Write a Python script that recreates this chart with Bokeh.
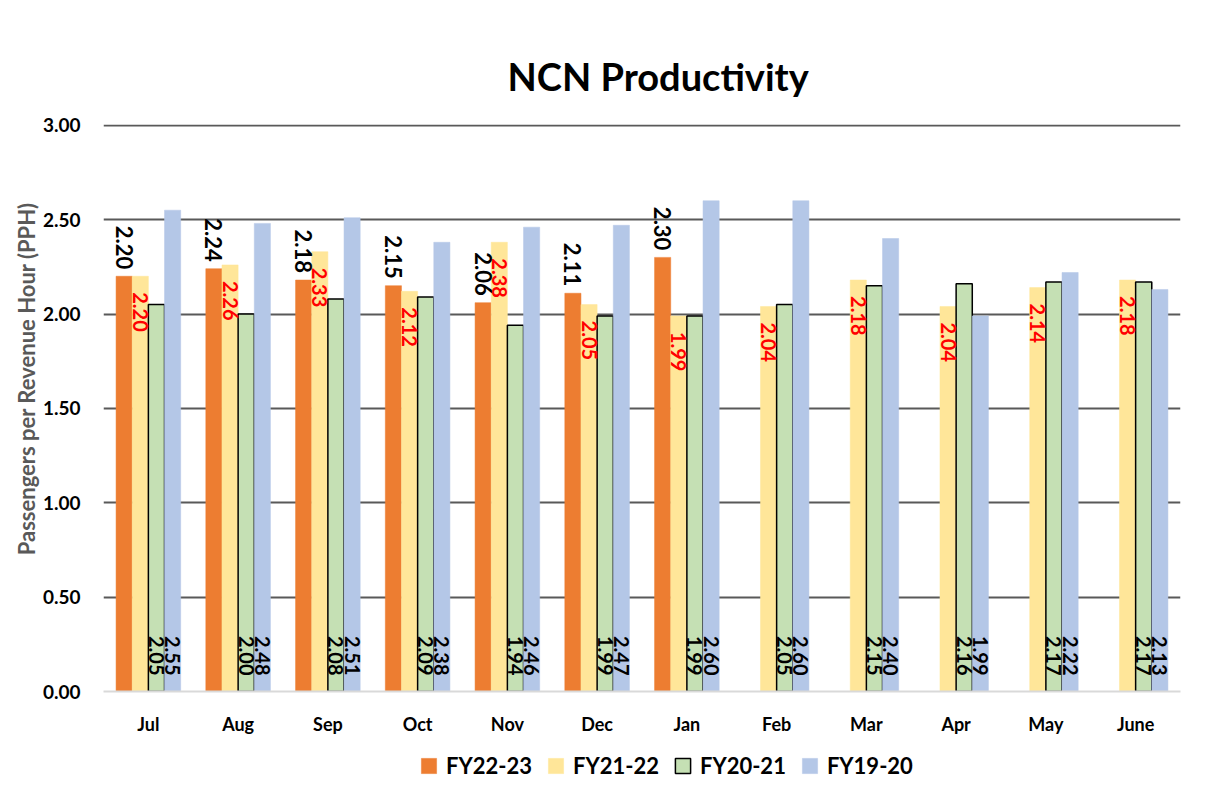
import math
from bokeh.plotting import figure
from bokeh.layouts import column
from bokeh.models import (ColumnDataSource, FactorRange, Legend, LegendItem,
                          Range1d, NumeralTickFormatter, FixedTicker)
from bokeh.transform import dodge
from bokeh.core.properties import value
from bokeh.embed import file_html
from bokeh.resources import INLINE

months = ["Jul", "Aug", "Sep", "Oct", "Nov", "Dec", "Jan", "Feb", "Mar", "Apr", "May", "June"]
fy22_23 = [2.20, 2.24, 2.18, 2.15, 2.06, 2.11, 2.30, None, None, None, None, None]
fy21_22 = [2.20, 2.26, 2.33, 2.12, 2.38, 2.05, 1.99, 2.04, 2.18, 2.04, 2.14, 2.18]
fy20_21 = [2.05, 2.00, 2.08, 2.09, 1.94, 1.99, 1.99, 2.05, 2.15, 2.16, 2.17, 2.17]
fy19_20 = [2.55, 2.48, 2.51, 2.38, 2.46, 2.47, 2.60, 2.60, 2.40, 1.99, 2.22, 2.13]
y_ticks = [0.0, 0.5, 1.0, 1.5, 2.0, 2.5, 3.0]

FONT = "Lato"

series = [
    ("FY22-23", fy22_23, "#ED7D31", None, -0.27),
    ("FY21-22", fy21_22, "#FFE699", None, -0.09),
    ("FY20-21", fy20_21, "#C5E0B4", "black", 0.09),
    ("FY19-20", fy19_20, "#B4C7E7", None, 0.27),
]

p = figure(width=1231, height=742, x_range=FactorRange(*months), y_range=Range1d(0, 3.004),
           output_backend="svg", toolbar_location=None,
           min_border_left=103, min_border_right=51, min_border_top=124, min_border_bottom=51)
p.title.text = "NCN Productivity"
p.title.text_font = FONT
p.title.text_font_size = "38px"
p.title.text_font_style = "bold"
p.title.text_color = "black"
p.title.align = "left"
p.title.offset = 404
p.title.standoff = 52

p.outline_line_color = None
p.xgrid.grid_line_color = None
p.ygrid.grid_line_color = "#595959"
p.ygrid.grid_line_width = 2
p.ygrid.ticker = FixedTicker(ticks=y_ticks[1:])

p.yaxis.ticker = FixedTicker(ticks=y_ticks)
p.yaxis.formatter = NumeralTickFormatter(format="0.00")
p.yaxis.axis_line_color = None
p.yaxis.major_tick_line_color = None
p.yaxis.minor_tick_line_color = None
p.yaxis.major_label_text_font = FONT
p.yaxis.major_label_text_font_style = "bold"
p.yaxis.major_label_text_font_size = "19px"
p.yaxis.major_label_text_color = "black"
p.yaxis.major_label_standoff = 17
p.yaxis.axis_label = "\u00a0" * 11 + "Passengers per Revenue Hour (PPH)"
p.yaxis.axis_label_text_font = FONT
p.yaxis.axis_label_text_font_size = "22px"
p.yaxis.axis_label_text_font_style = "bold"
p.yaxis.axis_label_text_color = "#595959"
p.yaxis.axis_label_standoff = 0

p.xaxis.axis_line_color = "#D9D9D9"
p.xaxis.axis_line_width = 2
p.xaxis.major_tick_line_color = None
p.xaxis.minor_tick_line_color = None
p.xaxis.major_label_text_font = FONT
p.xaxis.major_label_text_font_style = "bold"
p.xaxis.major_label_text_font_size = "18px"
p.xaxis.major_label_text_color = "black"
p.xaxis.major_label_standoff = 15
p.x_range.range_padding = 0

for name, vals, color, line, off in series:
    src = ColumnDataSource(dict(month=months, val=[float("nan") if v is None else v for v in vals]))
    p.vbar(x=dodge("month", off, range=p.x_range), top="val", width=0.18, source=src,
           fill_color=color, line_color=line if line else color,
           line_width=1.5 if line else 0.5)

def add_labels(vals, off, ycol_fn, align, yoff, color, size, style="bold"):
    ms = [m for m, v in zip(months, vals) if v is not None]
    vs = [v for v in vals if v is not None]
    src = ColumnDataSource(dict(month=ms, y=[ycol_fn(v) for v in vs], t=["%.2f" % v for v in vs]))
    p.text(x=dodge("month", off, range=p.x_range), y="y", text="t", source=src,
           angle=-math.pi / 2, text_align=align, text_baseline="middle", y_offset=yoff,
           text_color=color, text_font=value(FONT), text_font_size=size, text_font_style=style)

add_labels(fy22_23, -0.27, lambda v: v, "right", -7, "black", "22px")
add_labels(fy21_22, -0.09, lambda v: v, "left", 16, "#FF0000", "20px")
add_labels(fy20_21, 0.09, lambda v: 0.0, "right", -16, "black", "20px")
add_labels(fy19_20, 0.27, lambda v: 0.0, "right", -16, "black", "20px")

# legend strip below the chart (its frame is aligned with the chart's frame)
p2 = figure(width=1231, height=64, x_range=Range1d(0, 1), y_range=Range1d(0, 1),
            output_backend="svg", toolbar_location=None, x_axis_location=None,
            y_axis_location=None, min_border=0)
p2.outline_line_color = None
p2.xgrid.grid_line_color = None
p2.ygrid.grid_line_color = None
items = []
for name, vals, color, line, off in series:
    r = p2.quad(left=[5], right=[6], bottom=[5], top=[6], fill_color=color,
                line_color=line if line else color, line_width=1.5 if line else 0.5)
    items.append(LegendItem(label=name, renderers=[r]))
legend = Legend(items=items, orientation="horizontal", location=(316, 27),
                glyph_width=19, glyph_height=19, label_standoff=8, spacing=14,
                padding=0, margin=0, border_line_color=None, background_fill_alpha=0,
                label_text_font=FONT, label_text_font_size="22px", label_text_font_style="bold",
                label_text_color="black")
p2.add_layout(legend, "center")

layout = column(p, p2, spacing=0)
open("out.html", "w").write(file_html(layout, INLINE))
